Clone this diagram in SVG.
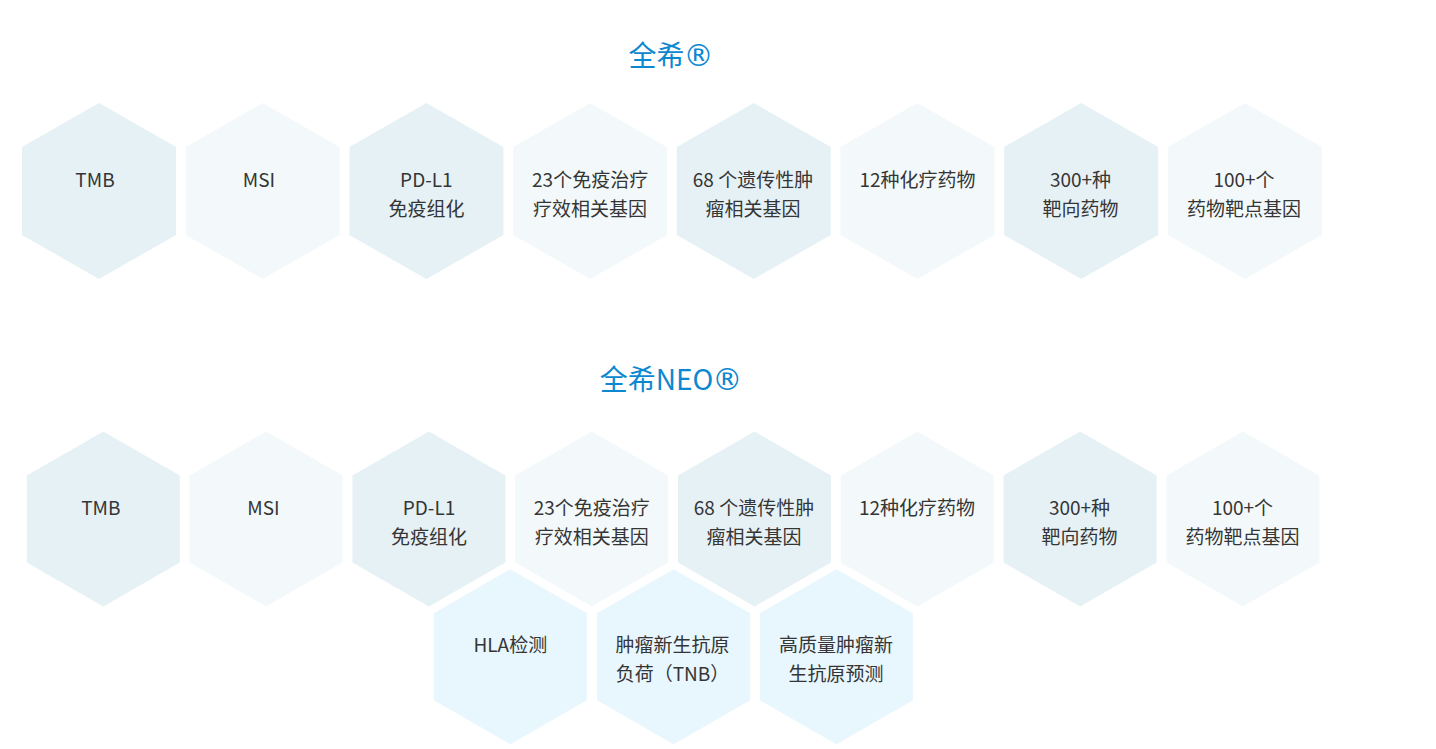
<svg xmlns="http://www.w3.org/2000/svg" xmlns:xlink="http://www.w3.org/1999/xlink" width="1436" height="749" viewBox="0 0 1436 749">
<style>
.t{font-family:"Noto Sans CJK SC","Noto Sans",sans-serif;font-size:19px;fill:#353535;text-anchor:middle}
.title{font-family:"Noto Sans CJK SC","Noto Sans",sans-serif;font-size:28px;fill:#0c88d0;text-anchor:middle}
.reg{font-family:"DejaVu Sans",sans-serif;font-size:30px}
.d{fill:#e6f1f5}
.l{fill:#f3f9fa}
.b{fill:#e8f6fd}
</style>
<defs>
<polygon id="hex" points="0,-88 77,-44 77,44 0,88 -77,44 -77,-44"/>
<polygon id="hex2" points="0,-87.5 76.5,-43.5 76.5,43.5 0,87.5 -76.5,43.5 -76.5,-43.5"/>
</defs>
<rect width="1436" height="749" fill="#ffffff"/>
<text class="title" x="671" y="66">全希<tspan class="reg" dx="-1">®</tspan></text>
<text class="title" x="671" y="390">全希NEO<tspan class="reg" dx="-1">®</tspan></text>

<g id="r1n1"><use xlink:href="#hex" class="d" x="99" y="191"/><text class="t" x="95" y="187">TMB</text></g>
<g id="r1n2"><use xlink:href="#hex" class="l" x="262.7" y="191"/><text class="t" x="259" y="187">MSI</text></g>
<g id="r1n3"><use xlink:href="#hex" class="d" x="426.4" y="191"/><text class="t" x="426.4" y="187">PD-L1</text><text class="t" x="426.4" y="215.5">免疫组化</text></g>
<g id="r1n4"><use xlink:href="#hex" class="l" x="590.1" y="191"/><text class="t" x="590.1" y="187">23个免疫治疗</text><text class="t" x="590.1" y="215.5">疗效相关基因</text></g>
<g id="r1n5"><use xlink:href="#hex" class="d" x="753.8" y="191"/><text class="t" x="753" y="187">68 个遗传性肿</text><text class="t" x="753" y="215.5">瘤相关基因</text></g>
<g id="r1n6"><use xlink:href="#hex" class="l" x="917.5" y="191"/><text class="t" x="917.5" y="187">12种化疗药物</text></g>
<g id="r1n7"><use xlink:href="#hex" class="d" x="1081.2" y="191"/><text class="t" x="1080.5" y="187">300+种</text><text class="t" x="1080.5" y="215.5">靶向药物</text></g>
<g id="r1n8"><use xlink:href="#hex" class="l" x="1244.9" y="191"/><text class="t" x="1244" y="187">100+个</text><text class="t" x="1244" y="215.5">药物靶点基因</text></g>

<g id="r2n1"><use xlink:href="#hex2" class="d" x="103.3" y="519"/><text class="t" x="100.8" y="515">TMB</text></g>
<g id="r2n2"><use xlink:href="#hex2" class="l" x="266.1" y="519"/><text class="t" x="263.5" y="515">MSI</text></g>
<g id="r2n3"><use xlink:href="#hex2" class="d" x="428.9" y="519"/><text class="t" x="429" y="515">PD-L1</text><text class="t" x="429" y="543.5">免疫组化</text></g>
<g id="r2n4"><use xlink:href="#hex2" class="l" x="591.7" y="519"/><text class="t" x="591.7" y="515">23个免疫治疗</text><text class="t" x="591.7" y="543.5">疗效相关基因</text></g>
<g id="r2n5"><use xlink:href="#hex2" class="d" x="754.5" y="519"/><text class="t" x="754" y="515">68 个遗传性肿</text><text class="t" x="754" y="543.5">瘤相关基因</text></g>
<g id="r2n6"><use xlink:href="#hex2" class="l" x="917.3" y="519"/><text class="t" x="917" y="515">12种化疗药物</text></g>
<g id="r2n7"><use xlink:href="#hex2" class="d" x="1080.1" y="519"/><text class="t" x="1079.5" y="515">300+种</text><text class="t" x="1079.5" y="543.5">靶向药物</text></g>
<g id="r2n8"><use xlink:href="#hex2" class="l" x="1242.9" y="519"/><text class="t" x="1242.5" y="515">100+个</text><text class="t" x="1242.5" y="543.5">药物靶点基因</text></g>

<g id="r3n1"><use xlink:href="#hex2" class="b" x="510.3" y="656.7"/><text class="t" x="510.3" y="652">HLA检测</text></g>
<g id="r3n2"><use xlink:href="#hex2" class="b" x="673.6" y="656.7"/><text class="t" x="672.5" y="652">肿瘤新生抗原</text><text class="t" x="672.5" y="680.5">负荷（TNB）</text></g>
<g id="r3n3"><use xlink:href="#hex2" class="b" x="836.4" y="656.7"/><text class="t" x="836" y="652">高质量肿瘤新</text><text class="t" x="836" y="680.5">生抗原预测</text></g>
</svg>
